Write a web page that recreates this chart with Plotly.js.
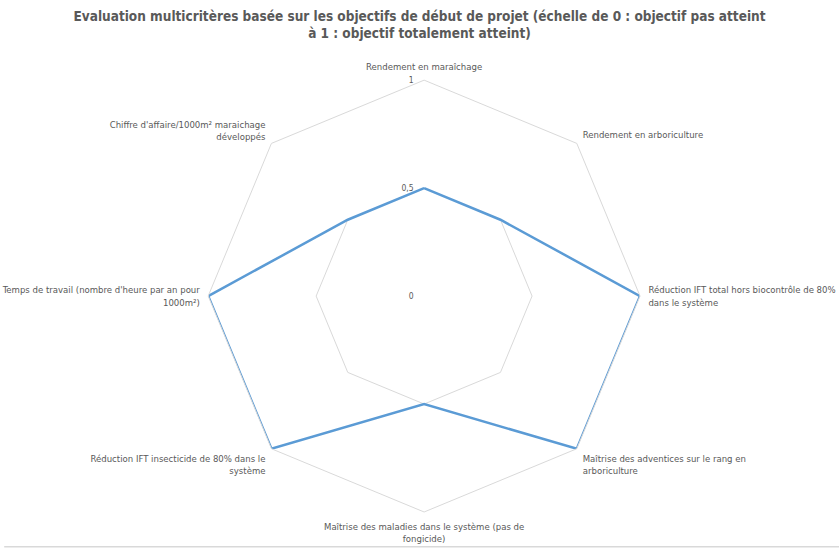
<!DOCTYPE html>
<html>
<head>
<meta charset="utf-8">
<script src="https://cdn.plot.ly/plotly-3.0.1.min.js"></script>
<style>
  html, body { margin: 0; padding: 0; background: #fff; }
  #chart { width: 839px; height: 549px; }
</style>
</head>
<body>
<div id="chart"></div>
<script>
// criteria (axes of the radar), clockwise from the top
var criteres = [
    "Rendement en maraîchage",
    "Rendement en arboriculture",
    "Réduction IFT total hors biocontrôle de 80%<br>dans le système",
    "Maîtrise des adventices sur le rang en<br>arboriculture",
    "Maîtrise des maladies dans le système (pas de<br>fongicide)",
    "Réduction IFT insecticide de 80% dans le<br>système",
    "Temps de travail (nombre d'heure par an pour<br>1000m²)",
    "Chiffre d'affaire/1000m² maraichage<br>développés"
];
var scores = [0.5, 0.5, 1, 1, 0.5, 1, 1, 0.5];
var tickVals = [0, 0.5, 1];
var tickLabels = ["0", "0,5", "1"];

var fontFam = "DejaVu Sans Condensed, Liberation Sans Narrow, sans-serif";
var labelFont = {family: fontFam, size: 9.5, color: "#595959"};

// close the polygon
var r = scores.concat([scores[0]]);
var theta = criteres.concat([criteres[0]]);

var trace = {
    type: "scatterpolar",
    r: r,
    theta: theta,
    mode: "lines",
    line: {color: "#5B9BD5", width: 2.5},
    hoverinfo: "skip",
    showlegend: false
};

var layout = {
    width: 839,
    height: 549,
    margin: {l: 0, r: 0, t: 0, b: 0},
    paper_bgcolor: "#fff",
    title: {
        text: "<b>Evaluation multicritères basée sur les objectifs de début de projet (échelle de 0 : objectif pas atteint<br>à 1 : objectif totalement atteint)</b>",
        font: {family: fontFam, size: 13.5, color: "#595959"},
        x: 0.5, xanchor: "center", y: 0.962, yanchor: "top"
    },
    polar: {
        domain: {x: [0.248, 0.763], y: [0.0674, 0.854]},
        bgcolor: "#fff",
        gridshape: "linear",
        radialaxis: {
            range: [0, 1],
            tickvals: tickVals,
            ticktext: tickLabels,
            angle: 90,
            tickangle: 90,
            side: "counterclockwise",
            showline: false,
            ticks: "outside",
            ticklen: 7,
            tickcolor: "rgba(0,0,0,0)",
            gridcolor: "#d9d9d9",
            gridwidth: 1,
            tickfont: {family: fontFam, size: 8.5, color: "#595959"}
        },
        angularaxis: {
            direction: "clockwise",
            rotation: 90,
            showline: true,
            linecolor: "#d9d9d9",
            linewidth: 1,
            showgrid: false,
            ticks: "outside",
            ticklen: 6,
            tickcolor: "rgba(0,0,0,0)",
            tickfont: labelFont
        }
    },
    shapes: [{
        type: "line", xref: "paper", yref: "paper",
        x0: 0.005, x1: 1, y0: 0.004, y1: 0.004,
        line: {color: "#d9d9d9", width: 1.5}
    }]
};

Plotly.newPlot("chart", [trace], layout, {displayModeBar: false, staticPlot: true});
</script>
</body>
</html>
